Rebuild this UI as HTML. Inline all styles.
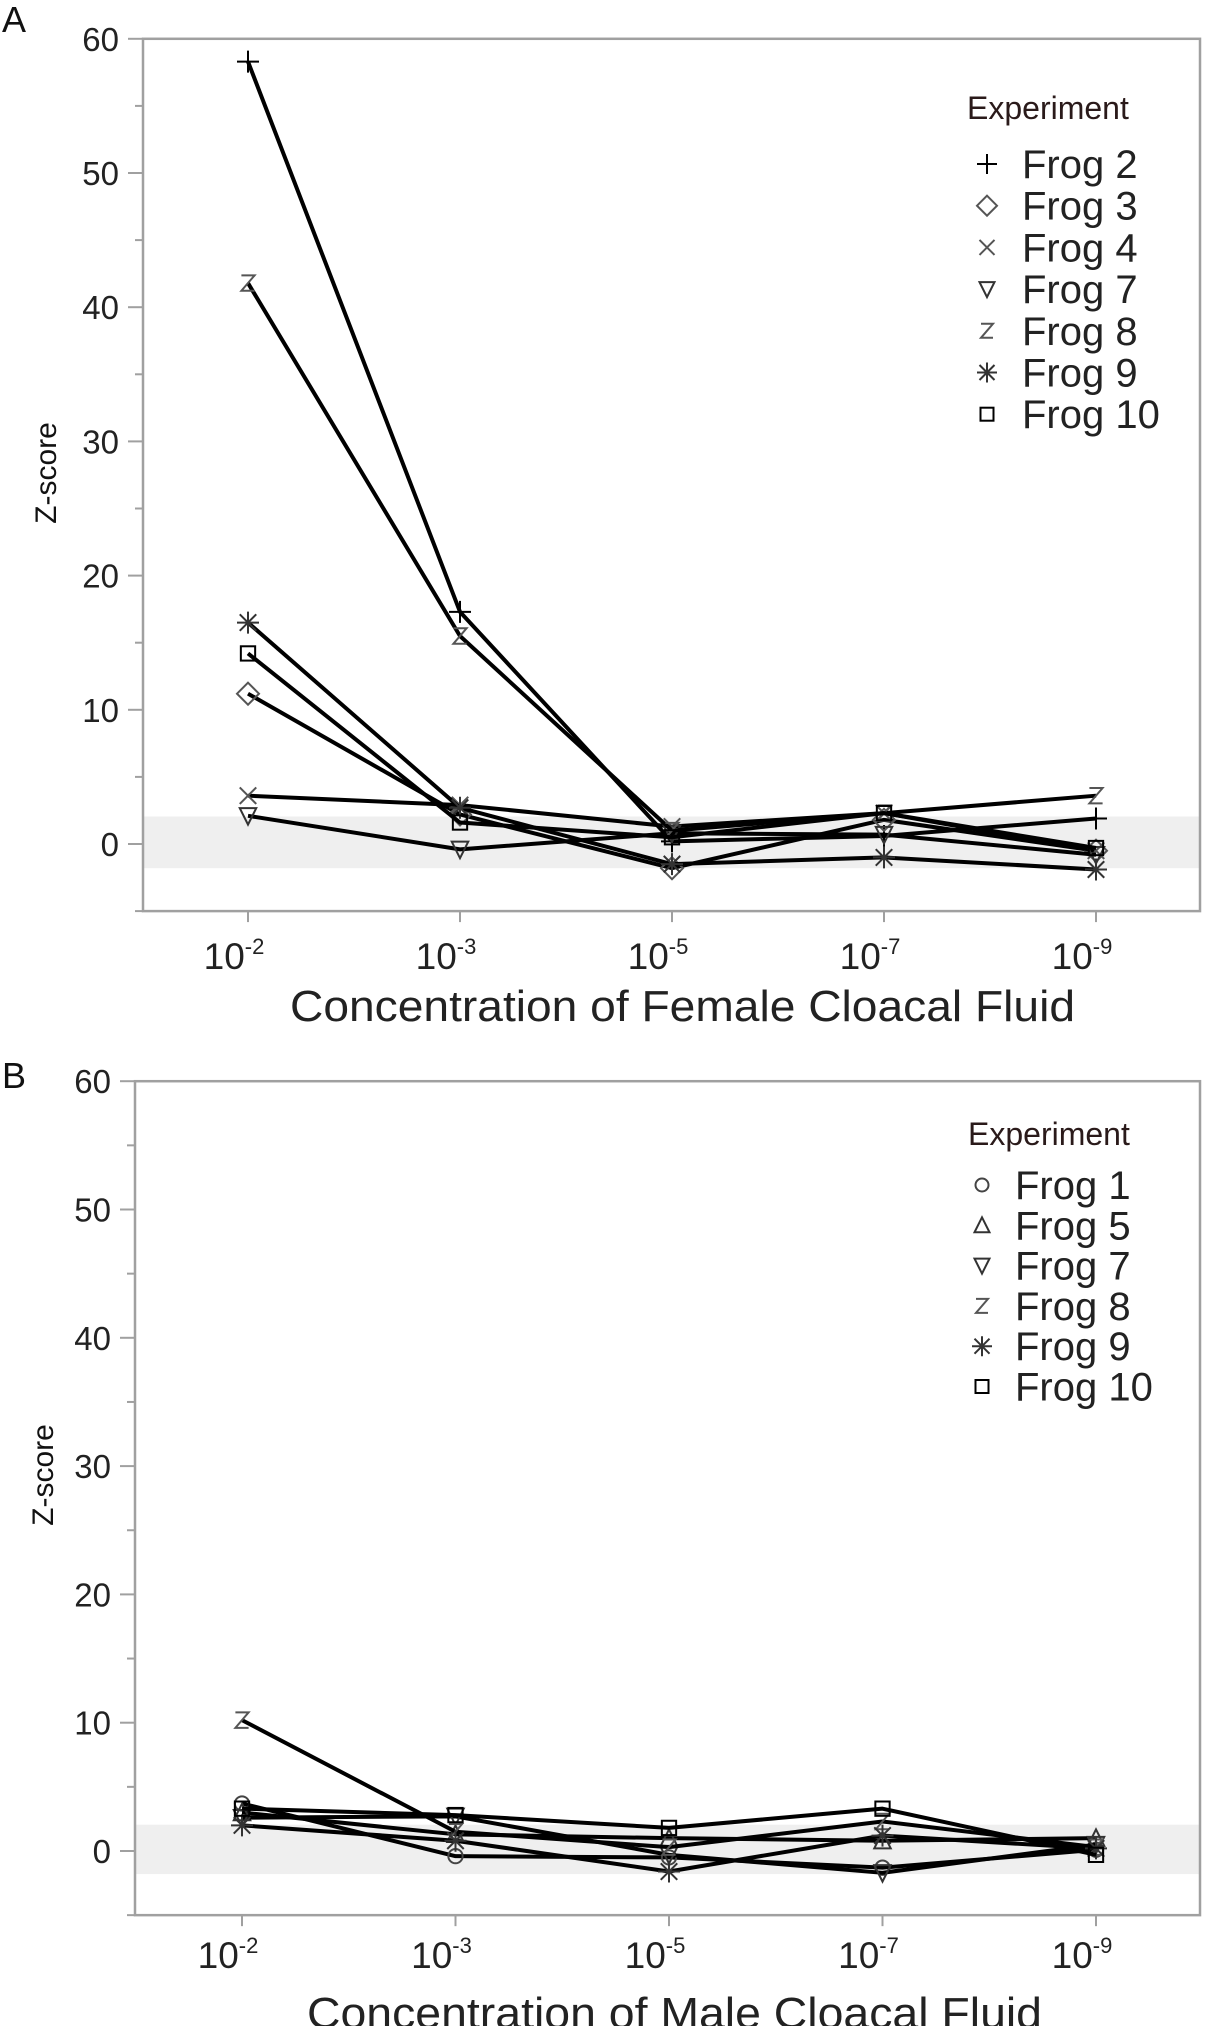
<!DOCTYPE html>
<html><head><meta charset="utf-8"><style>
html,body{margin:0;padding:0;background:#fff;}
svg{display:block;font-family:"Liberation Sans",sans-serif;}
</style></head><body>
<svg id="fig" width="1205" height="2026" viewBox="0 0 1205 2026" xmlns="http://www.w3.org/2000/svg"></svg>
<script>
const categories = ["-2","-3","-5","-7","-9"];
const yTicks = [0,10,20,30,40,50,60];
// Panel A series
const seriesA_names = ["Frog 2","Frog 3","Frog 4","Frog 7","Frog 8","Frog 9","Frog 10"];
const seriesA_markers = ["plus","diamond","x","tridown","z","star","square"];
const frog2A = [58.3,17.3,0.2,0.6,1.9];
const frog3A = [11.2,2.2,-1.8,1.8,-0.5];
const frog4A = [3.6,2.9,1.3,2.3,-0.5];
const frog7A = [2.1,-0.4,0.8,0.7,-0.8];
const frog8A = [41.8,15.5,1.0,2.3,3.6];
const frog9A = [16.5,2.7,-1.5,-1.0,-1.9];
const frog10A = [14.2,1.6,0.5,2.3,-0.3];
// Panel B series
const seriesB_names = ["Frog 1","Frog 5","Frog 7","Frog 8","Frog 9","Frog 10"];
const seriesB_markers = ["circle","triup","tridown","z","star","square"];
const frog1B = [3.7,-0.4,-0.5,-1.3,0.1];
const frog5B = [3.0,1.3,1.0,0.8,1.0];
const frog7B = [2.6,2.7,-0.3,-1.7,0.5];
const frog8B = [10.2,1.5,0.3,2.3,0.3];
const frog9B = [2.0,0.8,-1.6,1.2,0.2];
const frog10B = [3.3,2.8,1.8,3.3,-0.3];

const NS="http://www.w3.org/2000/svg";
const svg=document.getElementById('fig');
function mk(tag,attrs,parent){const e=document.createElementNS(NS,tag);for(const k in attrs)e.setAttribute(k,attrs[k]);(parent||svg).appendChild(e);return e;}

function marker(g,type,cx,cy,s){
  const st={stroke:'#333',fill:'none','stroke-width':2};
  let e;
  if(type==='plus'){e=mk('path',Object.assign({d:`M${cx-s} ${cy}H${cx+s}M${cx} ${cy-s}V${cy+s}`},st,{stroke:'#000'}),g);}
  else if(type==='diamond'){e=mk('path',Object.assign({d:`M${cx} ${cy-s}L${cx+s} ${cy}L${cx} ${cy+s}L${cx-s} ${cy}Z`},st,{stroke:'#555'}),g);}
  else if(type==='x'){const d=s*0.75;e=mk('path',Object.assign({d:`M${cx-d} ${cy-d}L${cx+d} ${cy+d}M${cx+d} ${cy-d}L${cx-d} ${cy+d}`},st,{stroke:'#555'}),g);}
  else if(type==='tridown'){e=mk('path',Object.assign({d:`M${cx-s*0.75} ${cy-s*0.7}H${cx+s*0.75}L${cx} ${cy+s*0.8}Z`},st),g);}
  else if(type==='triup'){e=mk('path',Object.assign({d:`M${cx-s*0.75} ${cy+s*0.7}H${cx+s*0.75}L${cx} ${cy-s*0.8}Z`},st),g);}
  else if(type==='z'){e=mk('path',Object.assign({d:`M${cx-s*0.6} ${cy-s*0.7}H${cx+s*0.6}L${cx-s*0.6} ${cy+s*0.7}H${cx+s*0.6}`},st,{stroke:'#555'}),g);}
  else if(type==='star'){const d=s*0.75;e=mk('path',Object.assign({d:`M${cx-s} ${cy}H${cx+s}M${cx} ${cy-s}V${cy+s}M${cx-d} ${cy-d}L${cx+d} ${cy+d}M${cx+d} ${cy-d}L${cx-d} ${cy+d}`},st),g);}
  else if(type==='square'){const d=s*0.65;e=mk('rect',Object.assign({x:cx-d,y:cy-d,width:2*d,height:2*d},st,{stroke:'#000'}),g);}
  else if(type==='circle'){e=mk('circle',Object.assign({cx:cx,cy:cy,r:s*0.65},st,{stroke:'#444'}),g);}
  return e;
}

function panel(cfg){
  const P=mk('g',{});
  
  
  const y=v=>cfg.y0-(v)*cfg.ppu;
  const x=i=>cfg.x0+i*cfg.dx;
  const yBot=y(-5), yTop=y(60);
  const band=mk('rect',{x:cfg.left,y:y(2.05),width:cfg.right-cfg.left,height:y(-1.8)-y(2.05),fill:'#efefef'},P);
  
  
  const fr=mk('rect',{x:cfg.left,y:yTop,width:cfg.right-cfg.left,height:yBot-yTop,fill:'none',stroke:'#a0a0a0','stroke-width':2.5},P);
  
  
  for(let v=-5;v<=60;v+=5){
    const major=v%10===0;
    mk('line',{x1:cfg.left-(major?15:8),x2:cfg.left,y1:y(v),y2:y(v),stroke:'#a0a0a0','stroke-width':2},P);
  }
  yTicks.forEach(v=>{
    const t=mk('text',{x:cfg.left-24,y:y(v)+12,'text-anchor':'end','font-size':33,fill:'#222'},P);
    t.textContent=v;
    
    
  });
  categories.forEach((c,i)=>{
    mk('line',{x1:x(i),x2:x(i),y1:yBot,y2:yBot+11,stroke:'#a0a0a0','stroke-width':2},P);
    const t=mk('text',{x:x(i)-14,y:cfg.xlabY,'text-anchor':'middle','font-size':37,fill:'#222'},P);
    t.textContent='10';
    const sp=mk('tspan',{dy:-15,'font-size':22},t);
    sp.textContent=c;
    
    
  });
  const xt=mk('text',{x:cfg.titleX,y:cfg.titleY,'font-size':44,fill:'#222',textLength:cfg.titleLen,lengthAdjust:'spacingAndGlyphs'},P);
  xt.textContent=cfg.xtitle;
  
  
  const yt=mk('text',{x:0,y:0,'font-size':30,fill:'#111','text-anchor':'middle',transform:`translate(${cfg.ztX},${cfg.ztY}) rotate(-90)`},P);
  yt.textContent='Z-score';
  
  
  const pl=mk('text',{x:2,y:cfg.letterY,'font-size':36,fill:'#111'},P);
  pl.textContent=cfg.letter;
  
  
  cfg.series.forEach((vals,si)=>{
    const g=mk('g',{},P);
    
    
    const pts=vals.map((v,i)=>x(i)+','+y(v)).join(' ');
    const line=mk('polyline',{points:pts,fill:'none',stroke:'#000','stroke-width':4,'stroke-linejoin':'round'},g);
    
    
    vals.forEach((v,i)=>{
      const m=marker(g,cfg.markers[si],x(i),y(v),11);
      
      
    });
  });
  const lg=mk('g',{},P);
  
  
  const lt=mk('text',{x:cfg.legX,y:cfg.legY,'font-size':32,fill:'#2a1a1a'},lg);
  lt.textContent='Experiment';
  
  
  cfg.names.forEach((n,i)=>{
    const by=cfg.legY0+i*cfg.legDy;
    const eg=mk('g',{},lg);
    
    
    marker(eg,cfg.markers[i],cfg.legMX,by-14,10);
    const t=mk('text',{x:cfg.legTX,y:by,'font-size':40,fill:'#222'},eg);
    t.textContent=n;
  });
}

panel({id:'female',letter:'A',letterY:32,left:143,right:1200,y0:844,ppu:13.42,x0:248,dx:212,
  xlabY:969,titleX:290,titleY:1021,titleLen:785,xtitle:'Concentration of Female Cloacal Fluid',
  ztX:56,ztY:473,series:[frog2A,frog3A,frog4A,frog7A,frog8A,frog9A,frog10A],names:seriesA_names,markers:seriesA_markers,
  legX:967,legY:119,legY0:178,legDy:41.7,legMX:987,legTX:1022});
panel({id:'male',letter:'B',letterY:1088,left:135,right:1200,y0:1851,ppu:12.83,x0:242,dx:213.5,
  xlabY:1968,titleX:307,titleY:2028,titleLen:735,xtitle:'Concentration of Male Cloacal Fluid',
  ztX:53,ztY:1475,series:[frog1B,frog5B,frog7B,frog8B,frog9B,frog10B],names:seriesB_names,markers:seriesB_markers,
  legX:968,legY:1145,legY0:1199,legDy:40.3,legMX:982,legTX:1015});
</script>
</body></html>
